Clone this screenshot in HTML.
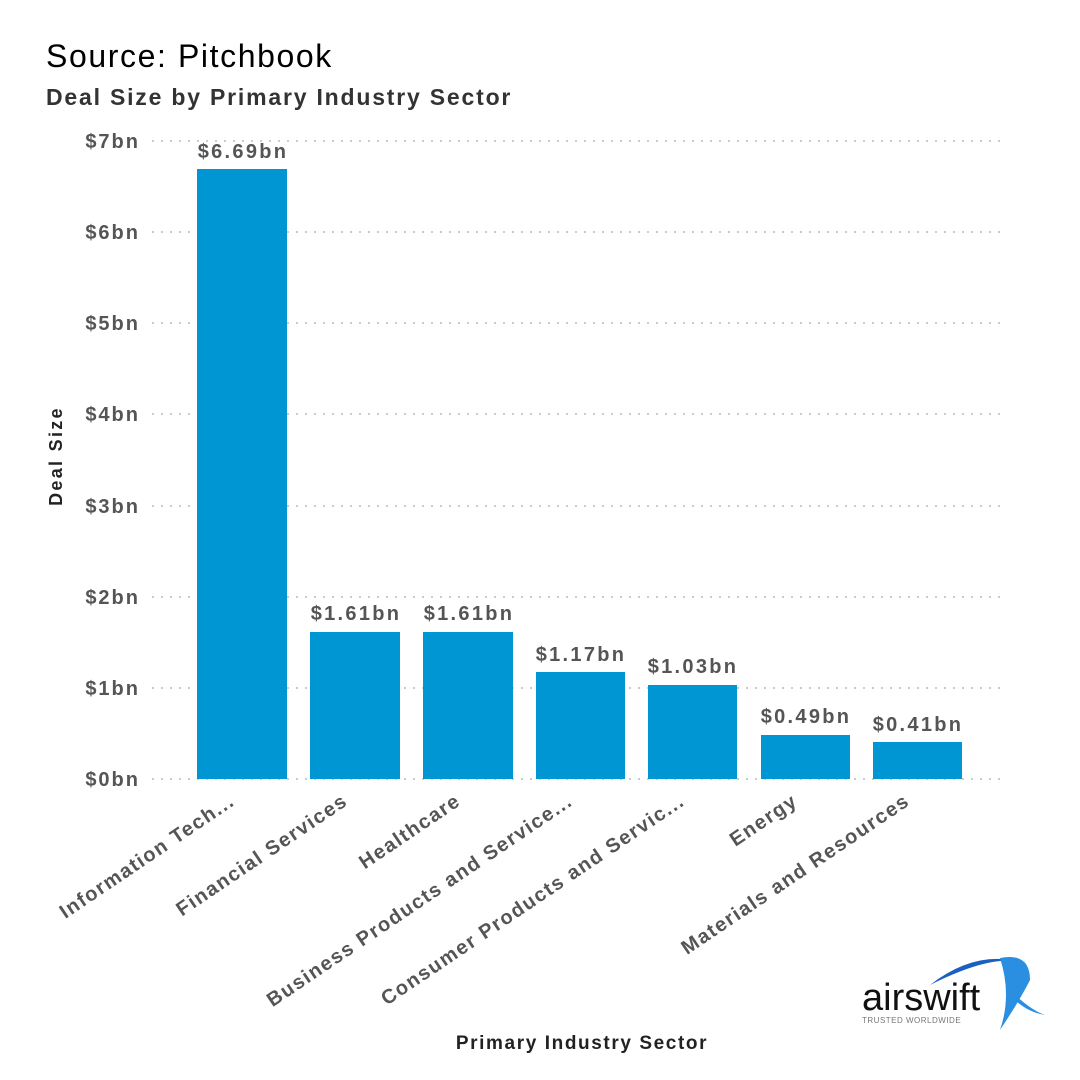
<!DOCTYPE html>
<html><head><meta charset="utf-8"><style>
html,body{margin:0;padding:0;background:#fff}
svg{display:block}
</style></head><body>
<svg width="1080" height="1080" xmlns="http://www.w3.org/2000/svg" font-family="Liberation Sans, sans-serif">
<text x="46" y="67" font-size="32" fill="#000" letter-spacing="1.6">Source: Pitchbook</text>
<text x="46" y="105" font-size="23" fill="#333" font-weight="bold" letter-spacing="1.8">Deal Size by Primary Industry Sector</text>
<g stroke="#ccc" stroke-width="2" stroke-dasharray="2,7">
<line x1="152" y1="141" x2="1000" y2="141"/>
<line x1="152" y1="232" x2="1000" y2="232"/>
<line x1="152" y1="323" x2="1000" y2="323"/>
<line x1="152" y1="414" x2="1000" y2="414"/>
<line x1="152" y1="506" x2="1000" y2="506"/>
<line x1="152" y1="597" x2="1000" y2="597"/>
<line x1="152" y1="688" x2="1000" y2="688"/>
<line x1="152" y1="779" x2="1000" y2="779"/>
</g>
<g font-size="20" fill="#555" font-weight="bold" text-anchor="end" letter-spacing="2">
<text x="140" y="148">$7bn</text>
<text x="140" y="239">$6bn</text>
<text x="140" y="330">$5bn</text>
<text x="140" y="421">$4bn</text>
<text x="140" y="513">$3bn</text>
<text x="140" y="604">$2bn</text>
<text x="140" y="695">$1bn</text>
<text x="140" y="786">$0bn</text>
</g>
<text transform="translate(62,456) rotate(-90)" text-anchor="middle" font-size="18" font-weight="bold" fill="#222" letter-spacing="2.3">Deal Size</text>
<g fill="#0095d3">
<rect x="197" y="169" width="90" height="610"/>
<rect x="310" y="632" width="90" height="147"/>
<rect x="423" y="632" width="90" height="147"/>
<rect x="536" y="672" width="89" height="107"/>
<rect x="648" y="685" width="89" height="94"/>
<rect x="761" y="735" width="89" height="44"/>
<rect x="873" y="742" width="89" height="37"/>
</g>
<g font-size="20" fill="#555" font-weight="bold" text-anchor="middle" letter-spacing="2.3">
<text x="243" y="158">$6.69bn</text>
<text x="356" y="620">$1.61bn</text>
<text x="469" y="620">$1.61bn</text>
<text x="581" y="661">$1.17bn</text>
<text x="693" y="673">$1.03bn</text>
<text x="806" y="723">$0.49bn</text>
<text x="918" y="731">$0.41bn</text>
</g>
<g font-size="20" fill="#555" font-weight="bold" text-anchor="end" letter-spacing="1.5">
<text transform="translate(236,804) rotate(-34)">Information Tech...</text>
<text transform="translate(349,804) rotate(-34)">Financial Services</text>
<text transform="translate(462,804) rotate(-34)">Healthcare</text>
<text transform="translate(574,804) rotate(-34)">Business Products and Service...</text>
<text transform="translate(686,804) rotate(-34)">Consumer Products and Servic...</text>
<text transform="translate(799,804) rotate(-34)">Energy</text>
<text transform="translate(911,804) rotate(-34)">Materials and Resources</text>
</g>
<text x="582" y="1049" text-anchor="middle" font-size="19" font-weight="bold" fill="#222" letter-spacing="1.6">Primary Industry Sector</text>
<g>
<path d="M930 985 Q975 950 1020 962 Q990 955 930 985Z" fill="#1b5fc0"/>
<path d="M1000 958 Q1030 952 1030 980 Q1020 1000 1000 1030 Q1012 995 1000 958Z" fill="#2a8fe0"/>
<path d="M1010 990 Q1030 1010 1045 1015 Q1025 1012 1010 995Z" fill="#2a8fe0"/>
<text x="862" y="1010" font-size="38" fill="#111">airswift</text>
<text x="862" y="1023" font-size="8" fill="#777" letter-spacing="0.5">TRUSTED WORLDWIDE</text>
</g>
</svg>
</body></html>
